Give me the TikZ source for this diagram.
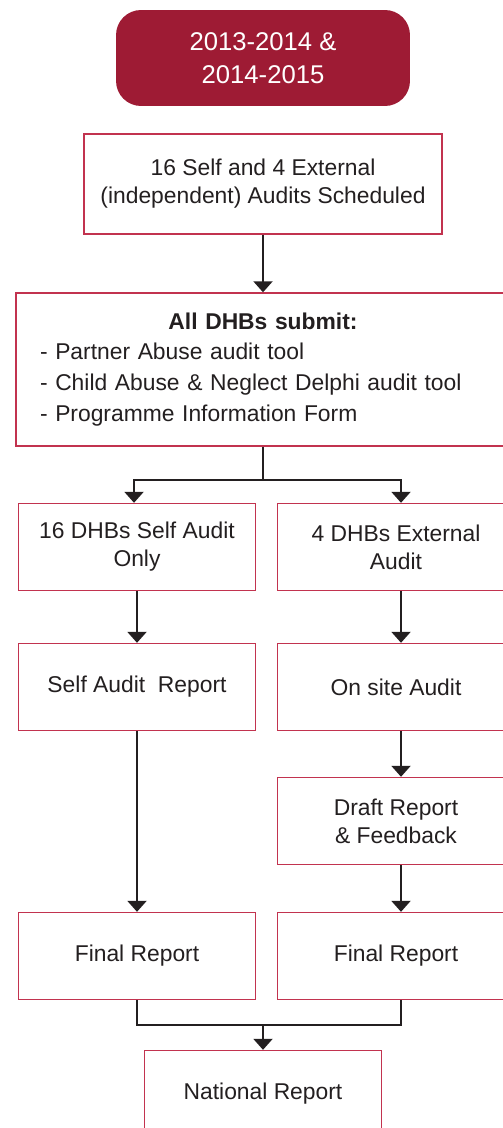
\documentclass[tikz,border=0pt]{standalone}
\usepackage{fontspec}
\setmainfont{Liberation Sans}
\usepackage{tikz}
\usetikzlibrary{arrows.meta, positioning}
\definecolor{auditred}{HTML}{9E1B34}
\definecolor{edgered}{HTML}{C2334F}
\definecolor{ink}{HTML}{231F20}

\begin{document}
\begin{tikzpicture}[
            x=0.02cm, y=-0.02cm, % one unit per pixel of the layout
            box/.style={draw=edgered, line width=0.8pt, fill=white, text=ink, align=center, inner sep=0pt, font=\fontsize{13}{15.9}\selectfont}, % plain step box
            half/.style={box, minimum width=4.74cm, minimum height=1.74cm}, % box of one column
            link/.style={draw=ink, line width=1.2pt}, % plain connector
            flow/.style={link, -{Triangle[width=0.38cm,length=0.22cm]}} % connector with head
            ]
        \useasboundingbox (0,0) rectangle (503,1128);
        \clip (0,0) rectangle (503,1128);

        % heading
        \node[fill=auditred, rounded corners=0.5cm, text=white, align=center, minimum width=5.88cm, minimum height=1.92cm, font=\fontsize{14.6}{18.8}\selectfont] (years) at (263,58) {2013-2014 \&\\2014-2015};

        % common steps
        \node[box, minimum width=7.16cm, minimum height=2cm] (sched) at (263,184) {16 Self and 4 External\\(independent) Audits Scheduled};
        \node[box, minimum width=9.88cm, minimum height=3.06cm, text width=8.92cm, align=left, font=\fontsize{13}{17.6}\selectfont] (submit) at (263,369.5)
            {\makebox[8.92cm]{\bfseries All DHBs submit:}\\- Partner Abuse audit tool\\- Child Abuse \& Neglect Delphi audit tool\\- Programme Information Form};
        \coordinate (fork) at (263,480);

        % self audit column
        \node[half] (self1) at (137,547) {16 DHBs Self Audit\\Only};
        \node[half] (self2) at (137,687) {Self Audit\ \ Report};
        \node[half] (self4) at (137,956) {Final Report};

        % external audit column
        \node[half] (ext1) at (396,547) {4 DHBs External\\Audit};
        \node[half] (ext2) at (396,687) {On site Audit};
        \node[half] (ext3) at (396,821) {Draft Report\\\& Feedback};
        \node[half] (ext4) at (396,956) {Final Report};

        % result
        \coordinate (join) at (263,1025);
        \node[half] (nat) at (263,1094) {National Report};

        \draw[flow] (sched) -- (submit);
        \draw[link] (submit) -- (fork);
        \draw[flow] (fork) -| ([xshift=-0.06cm]self1.north);
        \draw[flow] (fork) -| ([xshift=0.1cm]ext1.north);
        \draw[flow] (self1) -- (self2);
        \draw[flow] (self2) -- (self4);
        \draw[flow] ([xshift=0.1cm]ext1.south) -- ([xshift=0.1cm]ext2.north);
        \draw[flow] ([xshift=0.1cm]ext2.south) -- ([xshift=0.1cm]ext3.north);
        \draw[flow] ([xshift=0.1cm]ext3.south) -- ([xshift=0.1cm]ext4.north);
        \draw[link] (self4.south) -- (self4.south |- join) -- ([xshift=0.1cm]ext4.south |- join) -- ([xshift=0.1cm]ext4.south);
        \draw[flow] (join) -- (nat);

    \end{tikzpicture}
\end{document}
